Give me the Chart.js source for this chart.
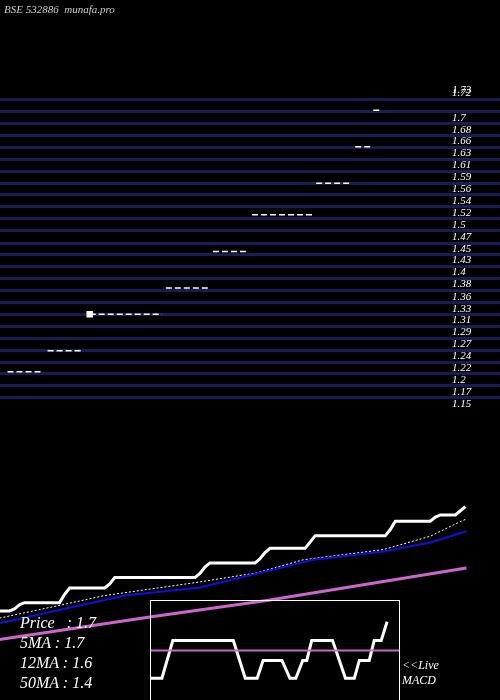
<!DOCTYPE html>
<html>
<head>
<meta charset="utf-8">
<script src="https://cdn.jsdelivr.net/npm/chart.js@4"></script>
<style>
  body { margin: 0; background: #000; }
  #wrap { position: relative; width: 500px; height: 700px; background: #000; overflow: hidden; }
  #main { position: absolute; left: -6px; top: 0; }
  #macdBox { position: absolute; left: 150px; top: 600px; width: 250px; height: 100px; border: 1px solid #fff; border-bottom: none; box-sizing: border-box; }
  .txt { position: absolute; font-family: "Liberation Serif", serif; font-style: italic; color: #fff; white-space: pre; }
</style>
</head>
<body>
<div id="wrap">
  <canvas id="main" width="512" height="700"></canvas>
  <div id="macdBox"><canvas id="macd" width="248" height="99"></canvas></div>
  <div class="txt" style="left:4px;top:3px;font-size:11px;color:#ccc">BSE 532886  munafa.pro</div>
  <div class="txt" style="left:20px;top:614px;font-size:16px">Price   : 1.7</div>
  <div class="txt" style="left:20px;top:634px;font-size:16px">5MA : 1.7</div>
  <div class="txt" style="left:20px;top:654px;font-size:16px">12MA : 1.6</div>
  <div class="txt" style="left:20px;top:674px;font-size:16px">50MA : 1.4</div>
  <div class="txt" style="left:402px;top:658px;font-size:12px">&lt;&lt;Live</div>
  <div class="txt" style="left:402px;top:673px;font-size:12px">MACD</div>
</div>
<script>
// price scale grid labels (upper panel)
const tickLabels = ['1.15','1.17','1.2','1.22','1.24','1.27','1.29','1.31','1.33','1.36','1.38','1.4','1.43',
  '1.45','1.47','1.5','1.52','1.54','1.56','1.59','1.61','1.63','1.66','1.68','1.7','1.72']
const tickValues = [1.15,1.173,1.196,1.218,1.241,1.264,1.287,1.310,1.332,1.355,1.378,1.401,1.424,
  1.446,1.469,1.492,1.515,1.538,1.560,1.583,1.606,1.629,1.652,1.674,1.697,1.72]

// upper panel price levels (dashed marks), start/end in days
const levelPrices = [1.2, 1.24, 1.31, 1.36, 1.43, 1.5, 1.56, 1.63, 1.7]
const levelStart = [1.6, 9.6, 18, 33.2, 42.6, 50.4, 63.2, 71, 74.6]
const levelEnd = [8.8, 16.4, 32.4, 41.6, 49.8, 62.8, 70.2, 74.2, 76]

// lower panel: daily closing price
const days = [0,1,2,3,4,5,6,7,8,9,10,11,12,13,14,15,16,17,18,19,20,21,22,23,24,25,26,27,28,29,30,31,32,33,34,35,36,37,38,39,40,41,42,43,44,45,46,47,48,49,50,51,52,53,54,55,56,57,58,59,60,61,62,63,64,65,66,67,68,69,70,71,72,73,74,75,76,77,78,79,80,81,82,83,84,85,86,87,88,89,90,91,92,93]
const price = [1.2,1.2,1.2,1.21,1.23,1.24,1.24,1.24,1.24,1.24,1.24,1.24,1.24,1.28,1.31,1.31,1.31,1.31,1.31,1.31,1.31,1.31,1.33,1.36,1.36,1.36,1.36,1.36,1.36,1.36,1.36,1.36,1.36,1.36,1.36,1.36,1.36,1.36,1.36,1.36,1.38,1.41,1.43,1.43,1.43,1.43,1.43,1.43,1.43,1.43,1.43,1.43,1.45,1.48,1.5,1.5,1.5,1.5,1.5,1.5,1.5,1.5,1.53,1.56,1.56,1.56,1.56,1.56,1.56,1.56,1.56,1.56,1.56,1.56,1.56,1.56,1.56,1.56,1.59,1.63,1.63,1.63,1.63,1.63,1.63,1.63,1.63,1.65,1.66,1.66,1.66,1.66,1.68,1.7]

// moving averages, sampled days
const ma5Days = [0, 11.6, 21, 39.4, 51.2, 60.6, 76.6, 86, 91, 93.2]
const ma5 = [1.166, 1.225, 1.274, 1.337, 1.382, 1.445, 1.494, 1.558, 1.617, 1.641]
const ma12Days = [0, 25, 40, 62.6, 76.6, 86, 93.2]
const ma12 = [1.141, 1.274, 1.313, 1.445, 1.485, 1.528, 1.582]
const ma50Days = [0, 30, 53, 93.2]
const ma50 = [1.063, 1.171, 1.249, 1.406]

// MACD inset
const macdDays = [0,2.2,4.4,16.6,19,21.4,22.6,26.4,28,29.2,30.6,31.4,32.4,36.6,39.2,41,42,44,45,46.4,47.6]
const macdLine = [-2.8,-2.8,1,1,-2.8,-2.8,-1,-1,-2.8,-2.8,-1,-1,1,1,-2.8,-2.8,-1,-1,1,1,2.9]
const signalLine = [0, 0]
const signalDays = [0, 50]

const pts = (xs, ys) => xs.map((x, i) => ({x: x, y: ys[i]}))

const levelSets = levelPrices.map((p, i) => ({
  data: [{x: levelStart[i], y: p}, {x: levelEnd[i], y: p}],
  yAxisID: 'y', borderColor: '#fff', borderWidth: 1.5, borderDash: [6, 3],
  pointRadius: i === 2 ? [3.5, 0] : 0, pointStyle: 'rect', pointBackgroundColor: '#fff'
}))

const tickLabelPlugin = {
  id: 'tickLabelPlugin',
  afterDraw(chart) {
    const ctx = chart.ctx
    const sc = chart.scales.y
    ctx.save()
    ctx.fillStyle = '#fff'
    ctx.font = 'italic 11px "Liberation Serif", serif'
    ctx.textBaseline = 'middle'
    tickValues.forEach((v, i) => {
      const py = sc.getPixelForValue(v)
      const off = i === tickValues.length - 1 ? -7 : 6
      ctx.fillText(tickLabels[i], 458, py + off)
    })
    ctx.fillText('1.73', 458, sc.getPixelForValue(1.72) - 10)
    ctx.restore()
  }
}

new Chart(document.getElementById('main'), {
  type: 'line',
  data: {
    datasets: [
      ...levelSets,
      {data: pts(ma50Days, ma50), yAxisID: 'y2', borderColor: '#cc66cc', borderWidth: 3, pointRadius: 0},
      {data: pts(ma12Days, ma12), yAxisID: 'y2', borderColor: '#1010dd', borderWidth: 2, pointRadius: 0},
      {data: pts(ma5Days, ma5), yAxisID: 'y2', borderColor: '#fff', borderWidth: 1, borderDash: [2, 2], pointRadius: 0},
      {data: pts(days, price), yAxisID: 'y2', borderColor: '#fff', borderWidth: 3, pointRadius: 0}
    ]
  },
  options: {
    responsive: false, animation: false,
    layout: {padding: 0},
    plugins: {legend: {display: false}, tooltip: {enabled: false}},
    scales: {
      x: {type: 'linear', min: 0, max: 100, display: false},
      y: {
        min: 0.583, max: 1.900,
        afterBuildTicks: (s) => { s.ticks = tickValues.map(v => ({value: v})) },
        grid: {color: '#1c1c55', lineWidth: 3, drawTicks: false},
        border: {display: false},
        ticks: {display: false}
      },
      y2: {min: 0.80, max: 4.10, display: false}
    }
  },
  plugins: [tickLabelPlugin]
})

new Chart(document.getElementById('macd'), {
  type: 'line',
  data: {
    datasets: [
      {data: pts(signalDays, signalLine), borderColor: '#cc66cc', borderWidth: 2, pointRadius: 0},
      {data: pts(macdDays, macdLine), borderColor: '#fff', borderWidth: 3, pointRadius: 0}
    ]
  },
  options: {
    responsive: false, animation: false,
    layout: {padding: 0},
    plugins: {legend: {display: false}, tooltip: {enabled: false}},
    scales: {
      x: {type: 'linear', min: 0, max: 50, display: false},
      y: {min: -5, max: 5, display: false}
    }
  }
})
</script>
</body>
</html>
